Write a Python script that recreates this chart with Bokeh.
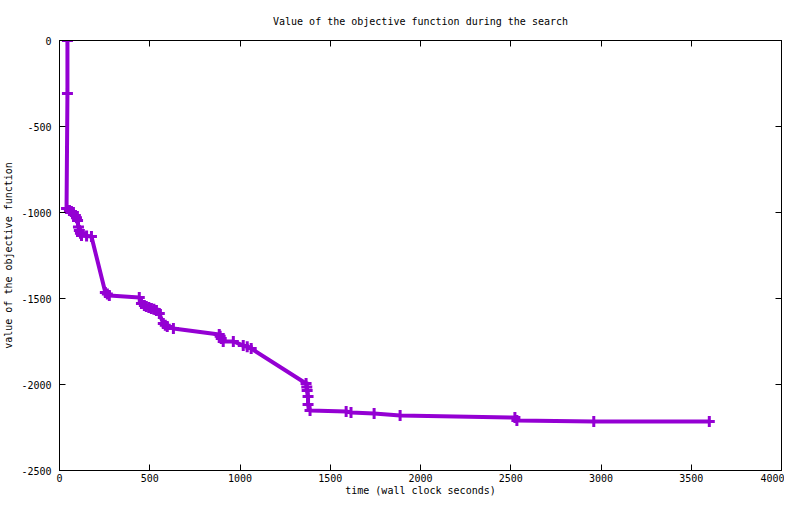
from bokeh.plotting import figure
from bokeh.models import Range1d, LinearAxis, FixedTicker
from bokeh.embed import file_html
from bokeh.resources import INLINE

# data: wall clock time (s) and objective value
times = [44, 44, 39, 55, 66, 77, 88, 94, 100, 105, 110, 116, 122, 150, 177,
         254, 265, 276, 442, 454, 470, 481, 495, 509, 523, 537, 553, 575, 586, 597, 631,
         885, 890, 896, 907, 963, 1018, 1040, 1062,
         1366, 1370, 1372, 1377, 1377, 1388, 1588, 1615, 1743, 1887, 2523, 2534, 2960, 3600]
values = [0, -308, -977, -988, -994, -1000, -1017, -1030, -1047, -1085, -1105, -1120, -1134, -1137, -1140,
          -1465, -1474, -1483, -1494, -1529, -1540, -1547, -1552, -1558, -1563, -1570, -1587, -1645, -1655, -1663, -1674,
          -1709, -1720, -1733, -1750, -1750, -1773, -1780, -1791,
          -1994, -2015, -2035, -2070, -2116, -2151, -2157, -2163, -2169, -2180, -2192, -2209, -2215, -2215]

x_ticks = [0, 500, 1000, 1500, 2000, 2500, 3000, 3500, 4000]
y_ticks = [0, -500, -1000, -1500, -2000, -2500]

title_text = "Value of the objective function during the search"
x_label = "time (wall clock seconds)"
y_label = "value of the objective function"

FONT = "DejaVu Sans Mono"
COLOR = "#9400d3"

p = figure(width=784, height=498, output_backend="svg", toolbar_location=None,
           x_range=Range1d(0, 4000), y_range=Range1d(-2500, 0),
           min_border_left=58, min_border_right=3, min_border_top=40, min_border_bottom=28,
           title=title_text)
p.title.text_font = FONT
p.title.text_font_size = "10px"
p.title.text_font_style = "normal"
p.title.align = "center"
p.title.text_color = "black"
p.title.standoff = 27

p.xgrid.visible = False
p.ygrid.visible = False
p.outline_line_color = "black"
p.outline_line_width = 1
p.background_fill_color = "white"
p.border_fill_color = "white"

def style_axis(ax, labels=True):
    ax.axis_line_color = "black"
    ax.major_tick_in = 6
    ax.major_tick_out = 0
    ax.minor_tick_line_color = None
    ax.major_tick_line_color = "black"
    ax.major_label_text_font = FONT
    ax.major_label_text_font_size = "10px"
    ax.major_label_text_color = "black"
    ax.axis_label_text_font = FONT
    ax.axis_label_text_font_size = "10px"
    ax.axis_label_text_font_style = "normal"
    ax.axis_label_text_color = "black"
    if not labels:
        ax.major_label_text_font_size = "1px"
        ax.major_label_text_color = None
        ax.major_label_standoff = 0

xa = p.xaxis[0]
xa.ticker = FixedTicker(ticks=x_ticks)
xa.major_label_overrides = {t: str(t) for t in x_ticks}
xa.axis_label = x_label
style_axis(xa)
xa.major_label_standoff = 3
xa.axis_label_standoff = 0

ya = p.yaxis[0]
ya.ticker = FixedTicker(ticks=y_ticks)
ya.major_label_overrides = {t: str(t) for t in y_ticks}
ya.axis_label = y_label
style_axis(ya)
ya.major_label_standoff = 8
ya.axis_label_standoff = 4

top = LinearAxis(ticker=FixedTicker(ticks=x_ticks))
style_axis(top, labels=False)
p.add_layout(top, "above")
right = LinearAxis(ticker=FixedTicker(ticks=y_ticks))
style_axis(right, labels=False)
p.add_layout(right, "right")

p.line(times, values, line_color=COLOR, line_width=4)
p.scatter(times, values, marker="cross", size=11, line_color=COLOR, line_width=3)

open("out.html", "w").write(file_html(p, INLINE))
